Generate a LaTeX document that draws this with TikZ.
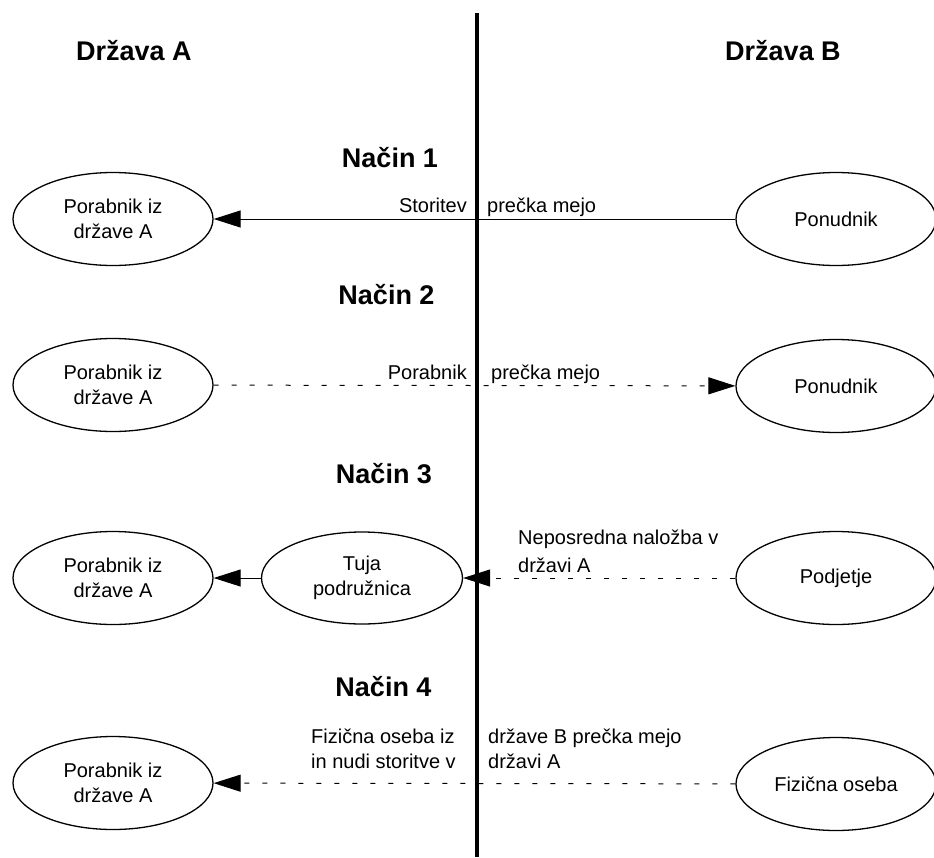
\documentclass[tikz,border=0pt]{standalone}
\usepackage{fontspec}
\setmainfont{Liberation Sans}
\usetikzlibrary{shapes.geometric,arrows.meta}
\begin{document}
\begin{tikzpicture}[x=1pt,y=-1pt,
  actor/.style={ellipse,draw,line width=1.3pt,minimum width=200pt,minimum height=93pt,inner sep=0pt,align=center,font=\fontsize{20}{24.5}\selectfont},
  heading/.style={font=\fontsize{27}{30}\selectfont\bfseries,inner sep=0pt,anchor=base},
  lbl/.style={font=\fontsize{20}{25}\selectfont,inner sep=0pt},
  flow/.style={line width=1pt,-{Triangle[length=27pt,width=17pt]}},
  dflow/.style={flow,dash pattern=on 5pt off 13pt},
  border/.style={line width=3.5pt}
]
\useasboundingbox (0,0) rectangle (934,857);
% border
\coordinate (btop) at (477,13);
\coordinate (bbot) at (477,857);
% headings
\node[heading] (hA) at (134,60) {Država A};
\node[heading] (hB) at (783,60) {Država B};
\node[heading] (m1) at (390,167) {Način 1};
\node[heading] (m2) at (386.5,304) {Način 2};
\node[heading] (m3) at (384,483) {Način 3};
\node[heading] (m4) at (383.5,696) {Način 4};
% row 1
\node[actor] (c1) at (113,219) {Porabnik iz\\države A};
\node[actor] (p1) at (836,219) {Ponudnik};
% row 2
\node[actor] (c2) at (113,385) {Porabnik iz\\države A};
\node[actor] (p2) at (836,386) {Ponudnik};
% row 3
\node[actor] (c3) at (113,578) {Porabnik iz\\države A};
\node[actor,minimum width=201pt,minimum height=92pt] (t3) at (362,578) {Tuja\\podružnica};
\node[actor] (p3) at (836,578) {Podjetje};
% row 4
\node[actor] (c4) at (113,783) {Porabnik iz\\države A};
\node[actor] (p4) at (836,784) {Fizična oseba};
% connectors
\draw[flow] (p1) -- (c1);
\draw[dflow] (c2) -- (p2);
\draw[flow] (t3) -- (c3);
\draw[dflow] (p3) -- (t3);
\draw[dflow] (p4) -- (c4);
\draw[border] (btop) -- (bbot);
% labels
\node[lbl,anchor=base east] (l1a) at (467,212) {Storitev};
\node[lbl,anchor=base west] (l1b) at (487,212) {prečka mejo};
\node[lbl,anchor=base east] (l2a) at (467,379) {Porabnik};
\node[lbl,anchor=base west] (l2b) at (491,379) {prečka mejo};
\node[lbl,anchor=base west,font=\fontsize{20}{28}\selectfont] (l3) at (518,544) {\begin{tabular}[t]{@{}l@{}}Neposredna naložba v\\državi A\end{tabular}};
\node[lbl,anchor=base west] (l4a) at (311,743) {\begin{tabular}[t]{@{}l@{}}Fizična oseba iz\\in nudi storitve v\end{tabular}};
\node[lbl,anchor=base west] (l4b) at (488,743) {\begin{tabular}[t]{@{}l@{}}države B prečka mejo\\državi A\end{tabular}};
\end{tikzpicture}
\end{document}
